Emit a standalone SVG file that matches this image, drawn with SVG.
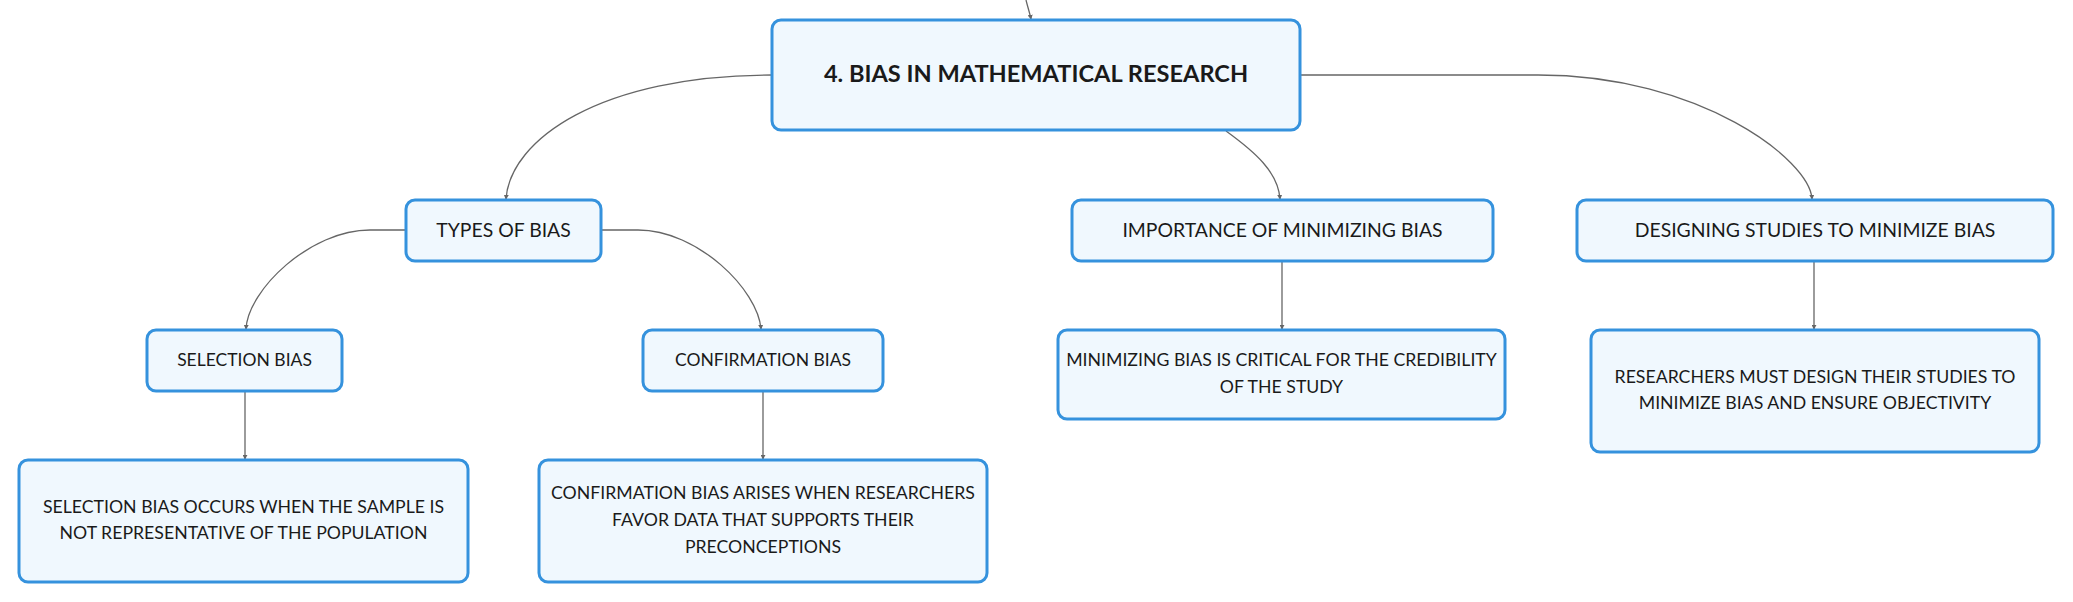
<svg xmlns="http://www.w3.org/2000/svg" width="2073" height="602" viewBox="0 0 2073 602">
<defs>
<marker id="arr" viewBox="0 0 6 6" refX="5" refY="3" markerWidth="5" markerHeight="5" markerUnits="userSpaceOnUse" orient="auto">
<path d="M0,0 L6,3 L0,6 z" fill="#666"/>
</marker>
</defs>
<style>
.node rect{fill:#f0f8fe;stroke:#3592dd;stroke-width:3}
.t{font-family:Lato,"Noto Sans",sans-serif;fill:#1a1a1a;text-anchor:middle}
.t0{font-size:23.6px;font-weight:bold}
.t1{font-size:19.4px}
.t2{font-size:17.5px}
.t3{font-size:17.7px}
#connectors path{fill:none;stroke:#666;stroke-width:1.3;marker-end:url(#arr)}
</style>
<rect width="2073" height="602" fill="#fff"/>
<g id="connectors">
<path d="M1026,0 C1028,8 1030,14 1031,19"/>
<path d="M772,75 C600,75 510,140 506,199"/>
<path d="M1226,131 C1255,152 1278,172 1280,199"/>
<path d="M1301,75 H1538 C1700,75 1810,160 1812,199"/>
<path d="M406,230 H370 C310,230 248,290 246,329"/>
<path d="M601,230 H638 C698,230 758,290 761,329"/>
<path d="M245,391 V459"/>
<path d="M763,391 V459"/>
<path d="M1282,261 V329"/>
<path d="M1814,261 V329"/>
</g>
<g id="n-main" class="node">
<rect x="772" y="20" width="528" height="110" rx="9"/>
<text class="t t0" x="1036" y="82">4. BIAS IN MATHEMATICAL RESEARCH</text>
</g>
<g id="n-types" class="node">
<rect x="406" y="200" width="195" height="61" rx="9"/>
<text class="t t1" x="503.5" y="236.5">TYPES OF BIAS</text>
</g>
<g id="n-importance" class="node">
<rect x="1072" y="200" width="421" height="61" rx="9"/>
<text class="t t1" x="1282.5" y="236.5">IMPORTANCE OF MINIMIZING BIAS</text>
</g>
<g id="n-designing" class="node">
<rect x="1577" y="200" width="476" height="61" rx="9"/>
<text class="t t1" x="1815" y="236.5">DESIGNING STUDIES TO MINIMIZE BIAS</text>
</g>
<g id="n-selection" class="node">
<rect x="147" y="330" width="195" height="61" rx="9"/>
<text class="t t2" x="244.5" y="366">SELECTION BIAS</text>
</g>
<g id="n-confirmation" class="node">
<rect x="643" y="330" width="240" height="61" rx="9"/>
<text class="t t2" x="763" y="366">CONFIRMATION BIAS</text>
</g>
<g id="n-selection-detail" class="node">
<rect x="19" y="460" width="449" height="122" rx="9"/>
<text class="t t3" x="243.5" y="513">SELECTION BIAS OCCURS WHEN THE SAMPLE IS</text>
<text class="t t3" x="243.5" y="539">NOT REPRESENTATIVE OF THE POPULATION</text>
</g>
<g id="n-confirmation-detail" class="node">
<rect x="539" y="460" width="448" height="122" rx="9"/>
<text class="t t3" x="763" y="499">CONFIRMATION BIAS ARISES WHEN RESEARCHERS</text>
<text class="t t3" x="763" y="526">FAVOR DATA THAT SUPPORTS THEIR</text>
<text class="t t3" x="763" y="553">PRECONCEPTIONS</text>
</g>
<g id="n-minimizing-detail" class="node">
<rect x="1058" y="330" width="447" height="89" rx="9"/>
<text class="t t3" x="1281.5" y="366">MINIMIZING BIAS IS CRITICAL FOR THE CREDIBILITY</text>
<text class="t t3" x="1281.5" y="393">OF THE STUDY</text>
</g>
<g id="n-researchers-detail" class="node">
<rect x="1591" y="330" width="448" height="122" rx="9"/>
<text class="t t3" x="1815" y="383">RESEARCHERS MUST DESIGN THEIR STUDIES TO</text>
<text class="t t3" x="1815" y="409">MINIMIZE BIAS AND ENSURE OBJECTIVITY</text>
</g>
</svg>
